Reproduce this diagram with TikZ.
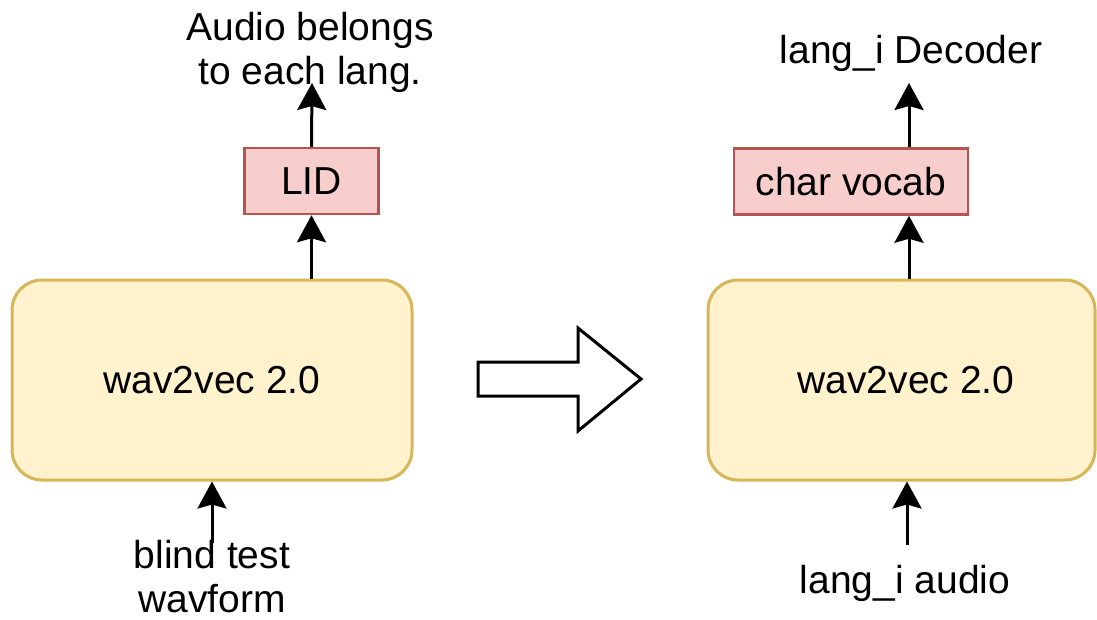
\documentclass[tikz,border=0pt]{standalone}
\usepackage{fontspec}
\setmainfont{Liberation Sans}
\usetikzlibrary{arrows.meta}
\definecolor{yfill}{HTML}{FFF2CC}
\definecolor{ydraw}{HTML}{D6B656}
\definecolor{rfill}{HTML}{F8CECC}
\definecolor{rdraw}{HTML}{B85450}
\begin{document}
\begin{tikzpicture}[x=1pt,y=-1pt,
  txt/.style={font=\fontsize{39}{44}\selectfont},
  encoder/.style={txt, draw=ydraw, fill=yfill, line width=3pt, rounded corners=30pt,
    minimum height=200pt, inner sep=0pt},
  headbox/.style={txt, draw=rdraw, fill=rfill, line width=2.5pt,
    minimum height=66pt, inner sep=0pt},
  lbl/.style={txt, inner sep=0pt, align=center},
  flow/.style={line width=3pt, -{Stealth[length=27pt,width=29pt,inset=4pt]}},
]
\useasboundingbox (0,0) rectangle (1097,619);

% left pipeline (multi-line labels are placed by the baseline of their last line)
\node[encoder, minimum width=400pt] (w1) at (212,380) {wav2vec 2.0};
\node[headbox, minimum width=134pt] (lid) at (311.5,181) {LID};
\node[lbl, anchor=base] (aud) at (310,84) {Audio belongs\\to each lang.};
\node[lbl, anchor=base] (blind) at (212,612) {blind test\\wavform};
\coordinate (audtip) at (312,83);
\coordinate (blindtail) at (212,543);

\draw[flow] (blindtail) -- (w1.south);
\draw[flow] (lid.south |- w1.north) -- (lid.south);
\draw[flow] (lid.north) -- (audtip);

% hollow block arrow between the two pipelines
\draw[line width=3pt, line join=miter, fill=white]
  (478,362) -- (578,362) -- (578,328) -- (641,379) -- (578,431) -- (578,396) -- (478,396) -- cycle;

% right pipeline
\node[encoder, minimum width=387pt] (w2) at (901.5,380) {\hspace*{9pt}wav2vec 2.0};
\node[headbox, minimum width=234pt] (cv) at (851,181.5) {char vocab};
\node[lbl, anchor=base] (dec) at (911,63) {lang\_i Decoder};
\node[lbl, anchor=base] (laud) at (905,593) {lang\_i audio};
\coordinate (dectip) at (909,83);
\coordinate (laudtail) at (907,545);

\draw[flow] (laudtail) -- (laudtail |- w2.south);
\draw[flow] (dectip |- w2.north) -- (dectip |- cv.south);
\draw[flow] (dectip |- cv.north) -- (dectip);
\end{tikzpicture}
\end{document}
